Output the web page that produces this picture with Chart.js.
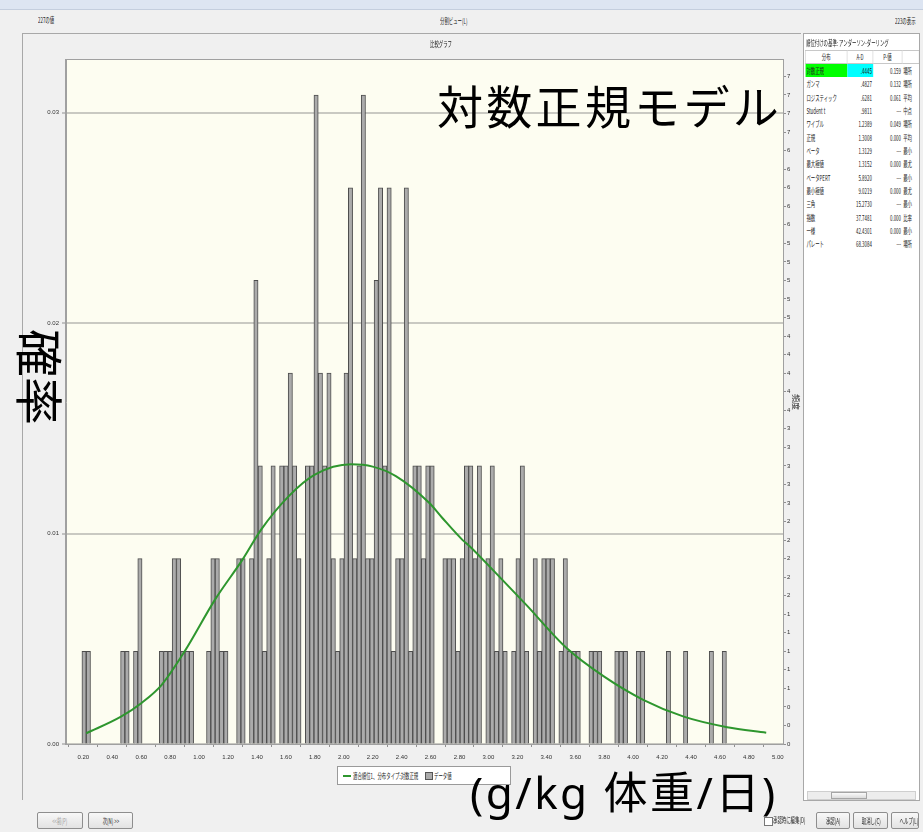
<!DOCTYPE html>
<html lang="ja">
<head>
<meta charset="UTF-8">
<title>比較グラフ</title>
<script src="https://cdn.jsdelivr.net/npm/chart.js"></script>
<style>
  body {
    margin: 0;
    width: 923px;
    height: 832px;
    position: relative;
    overflow: hidden;
    background: #F0F0F0;
    font-family: 'Noto Sans CJK JP', 'Noto Sans', sans-serif;
    color: #222;
  }
  .abs { position: absolute; }
  .tiny { font-size: 8px; line-height: 10px; white-space: nowrap; }
  .sq { display: inline-block; transform: scaleX(0.55); transform-origin: left center; }
  .sqc { display: inline-block; transform: scaleX(0.55); transform-origin: center center; }
  #topbar { left: 0; top: 0; width: 923px; height: 9px; background: #DDE5F2; border-bottom: 1px solid #C4CEDE; }
  #panel { left: 22px; top: 33px; width: 779px; height: 767px; border: 1px solid #A8A8A8; box-sizing: border-box; }
  #chart { left: 23px; top: 34px; }
  #rank { left: 803px; top: 33px; width: 117px; height: 768px; background: #fff; border: 1px solid #A8A8A8; box-sizing: border-box; overflow: hidden; }
  #rankWrap { position: absolute; left: 1px; top: 16px; width: 210px; transform: scaleX(0.55); transform-origin: left top; }
  #rankWrap table { width: 207px; border-collapse: collapse; table-layout: fixed; }
  #rankWrap td { height: 13.33px; padding: 0 2px; font-size: 8px; line-height: 13.33px; white-space: nowrap; overflow: visible; }
  #rankWrap tr.head td { border: 1px solid #C8C8C8; text-align: center; line-height: 12px; height: 12px; }
  .big { font-size: 46px; line-height: 1; white-space: nowrap; color: #000; }
  .legend { left: 337px; top: 766px; width: 174px; height: 19px; background: #fff; border: 1px solid #9A9A9A; box-sizing: border-box; }
  .btn { height: 17px; border: 1px solid #8E8E8E; border-radius: 2px; background: linear-gradient(#F8F8F8, #E2E2E2); box-sizing: border-box; text-align: center; font-size: 8px; line-height: 15px; white-space: nowrap; overflow: hidden; }
</style>
</head>
<body>
<div id="topbar" class="abs"></div>
<div class="abs tiny" style="left:38px; top:15px;"><span class="sq">227の値</span></div>
<div class="abs tiny" style="left:440px; top:16px;"><span class="sq">分割ビュー(L)</span></div>
<div class="abs tiny" style="left:895px; top:16px;"><span class="sq">223の表示</span></div>

<div id="panel" class="abs"></div>
<canvas id="chart" class="abs" width="778" height="766"></canvas>
<div class="abs tiny" style="left:430px; top:39px;"><span class="sq">比較グラフ</span></div>

<div class="abs legend tiny">
  <div class="abs" style="left:5px; top:8px; width:8px; height:2px; background:#2E962E;"></div>
  <div class="abs" style="left:15px; top:4px;"><span class="sq">適合順位1、分布タイプ:対数正規</span></div>
  <div class="abs" style="left:87px; top:5px; width:6px; height:6px; background:#ABABAB; border:1px solid #555;"></div>
  <div class="abs" style="left:96px; top:4px;"><span class="sq">データ値</span></div>
</div>

<div id="rank" class="abs">
  <div class="abs tiny" style="left:2px; top:4px;"><span class="sq">順位付けの基準: アンダーソン-ダーリング</span></div>
  <div id="rankWrap">
    <table>
      <colgroup><col style="width:76px"><col style="width:47px"><col style="width:53px"><col style="width:31px"></colgroup>
      <tbody id="rankBody">
        <tr class="head"><td>分布</td><td>A-D</td><td>P-値</td><td></td></tr>
      </tbody>
    </table>
  </div>
  <div class="abs" style="left:3px; top:757px; width:109px; height:9px; background:#EDEDED; border:1px solid #CFCFCF; box-sizing:border-box;"></div>
  <div class="abs" style="left:27px; top:758px; width:36px; height:7px; background:linear-gradient(#FAFAFA,#DCDCDC); border:1px solid #A5A5A5; box-sizing:border-box;"></div>
</div>

<div class="abs big" style="left:437px; top:81px; letter-spacing:3.3px;">対数正規モデル</div>
<div class="abs big" style="left:470px; top:770px; font-size:44px; font-family:'Noto Sans','Noto Sans CJK JP',sans-serif; letter-spacing:2.5px;">(g/kg 体重/日)</div>
<div class="abs big" style="left:18px; top:329px; font-size:48px; writing-mode:vertical-rl; text-orientation:sideways;">確率</div>

<div class="abs btn" style="left:37px; top:812px; width:46px; color:#9A9A9A;"><span class="sqc">&lt;&lt;前(P)</span></div>
<div class="abs btn" style="left:88px; top:812px; width:45px;"><span class="sqc">次(N) &gt;&gt;</span></div>
<div class="abs" style="left:764px; top:817px; width:7px; height:7px; border:1px solid #777; background:#fff;"></div>
<div class="abs tiny" style="left:773px; top:815px;"><span class="sq">承認時に編集(D)</span></div>
<div class="abs btn" style="left:816px; top:812px; width:34px;"><span class="sqc">承認(A)</span></div>
<div class="abs btn" style="left:853px; top:812px; width:35px;"><span class="sqc">取消し(C)</span></div>
<div class="abs btn" style="left:891px; top:812px; width:28px;"><span class="sqc">ヘルプ(L)</span></div>

<script>
  // histogram: 150 bins of frequency counts
  const binStart = 0.19;
  const binWidth = 0.0297;
  const totalValues = 227;
  const freq = [
    1, 1, 0, 0, 0, 0, 0, 0, 0, 1,
    1, 0, 1, 2, 0, 0, 0, 0, 1, 1,
    1, 2, 2, 1, 1, 1, 0, 0, 0, 1,
    2, 2, 1, 1, 0, 0, 2, 2, 0, 2,
    5, 3, 1, 2, 3, 0, 3, 3, 4, 3,
    2, 0, 3, 3, 7, 4, 3, 4, 2, 1,
    2, 4, 6, 2, 3, 7, 2, 2, 5, 6,
    3, 6, 1, 2, 2, 6, 1, 3, 3, 2,
    3, 3, 0, 0, 2, 2, 2, 1, 2, 3,
    3, 2, 3, 0, 2, 3, 1, 2, 1, 0,
    1, 2, 3, 1, 0, 2, 1, 2, 2, 2,
    0, 1, 2, 1, 1, 1, 0, 0, 1, 1,
    1, 0, 0, 0, 1, 1, 1, 0, 0, 1,
    1, 0, 0, 0, 0, 0, 1, 0, 0, 0,
    1, 0, 0, 0, 0, 0, 1, 0, 0, 1
  ];

  // fitted lognormal curve (probability per bin)
  const fitX = [0.22, 0.46, 0.60, 0.74, 0.90, 1.11, 1.30, 1.43, 1.62, 1.80, 2.05, 2.20, 2.36, 2.59, 2.68, 2.82, 2.87, 3.05, 3.26, 3.54, 3.80, 4.07, 4.35, 4.65, 4.92];
  const fitP = [0.00051, 0.0013, 0.00194, 0.0028, 0.0044, 0.00686, 0.00876, 0.0102, 0.01178, 0.0128, 0.01329, 0.01318, 0.01273, 0.01146, 0.01075, 0.0097, 0.0094, 0.00813, 0.00662, 0.00456, 0.0032, 0.0021, 0.0013, 0.0008, 0.00054];

  const xTicks = [0.2, 0.4, 0.6, 0.8, 1.0, 1.2, 1.4, 1.6, 1.8, 2.0, 2.2, 2.4, 2.6, 2.8, 3.0, 3.2, 3.4, 3.6, 3.8, 4.0, 4.2, 4.4, 4.6, 4.8, 5.0];
  const probTicks = [0, 0.01, 0.02, 0.03];
  const xMin = 0.08, xMax = 5.036, probMax = 0.0325;

  // ranking table
  const rankDist = ['対数正規', 'ガンマ', 'ロジスティック', 'Student t', 'ワイブル', '正規', 'ベータ', '最大極値', 'ベータPERT', '最小極値', '三角', '指数', '一様', 'パレート'];
  const rankAD = ['.4445', '.4827', '.6281', '.9811', '1.2389', '1.3008', '1.3129', '1.3152', '5.8920', '9.0219', '15.2730', '37.7481', '42.4301', '68.3084'];
  const rankP = ['0.159', '0.132', '0.061', '---', '0.049', '0.000', '---', '0.000', '---', '0.000', '---', '0.000', '0.000', '---'];
  const rankParam = ['場所', '場所', '平均', '中点', '場所', '平均', '最小', '最尤', '最小', '最尤', '最小', '比率', '最小', '場所'];

  const body = document.getElementById('rankBody');
  rankDist.forEach((d, i) => {
    const tr = document.createElement('tr');
    const c1 = i === 0 ? ' style="background:#00FF00"' : '';
    const c2 = i === 0 ? ' style="background:#00FFFF; text-align:right"' : ' style="text-align:right"';
    tr.innerHTML = '<td' + c1 + '>' + d + '</td>' +
      '<td' + c2 + '>' + rankAD[i] + '</td>' +
      '<td style="text-align:right">' + rankP[i] + '</td>' +
      '<td>' + rankParam[i] + '</td>';
    body.appendChild(tr);
  });

  const barData = freq.map((c, i) => ({ x: binStart + (i + 0.5) * binWidth, y: c > 0 ? c : null }));
  const fitData = fitX.map((x, i) => ({ x: x, y: fitP[i] }));

  const bgPlugin = {
    id: 'bg',
    beforeDraw(chart) {
      const { ctx, chartArea: a } = chart;
      ctx.save();
      ctx.fillStyle = '#F0F0F0';
      ctx.fillRect(0, 0, chart.width, chart.height);
      ctx.fillStyle = '#FDFDF1';
      ctx.fillRect(a.left, a.top, a.right - a.left, a.bottom - a.top);
      ctx.restore();
    },
    afterDraw(chart) {
      const { ctx, chartArea: a } = chart;
      ctx.save();
      ctx.strokeStyle = '#A0A0A0';
      ctx.lineWidth = 1;
      ctx.strokeRect(a.left - 0.5, a.top - 0.5, a.right - a.left + 1, a.bottom - a.top + 1);
      ctx.restore();
    }
  };

  const tickFont = { family: "'Liberation Sans Narrow', 'Liberation Sans', sans-serif", size: 6 };

  new Chart(document.getElementById('chart'), {
    data: {
      datasets: [
        {
          type: 'line',
          label: '適合順位1、分布タイプ:対数正規',
          data: fitData,
          xAxisID: 'x',
          yAxisID: 'y',
          borderColor: '#2E962E',
          borderWidth: 2,
          pointRadius: 0,
          cubicInterpolationMode: 'monotone',
          order: 0
        },
        {
          type: 'bar',
          label: 'データ値',
          data: barData,
          xAxisID: 'x',
          yAxisID: 'y1',
          backgroundColor: '#ABABAB',
          borderColor: '#4D4D4D',
          borderWidth: 1,
          barPercentage: 1,
          categoryPercentage: 1,
          order: 1
        }
      ]
    },
    options: {
      responsive: false,
      animation: false,
      devicePixelRatio: 1,
      layout: { padding: { top: 26, left: 0, right: 0, bottom: 0 } },
      plugins: {
        legend: { display: false },
        tooltip: { enabled: false }
      },
      scales: {
        x: {
          type: 'linear',
          offset: false,
          min: xMin,
          max: xMax,
          afterBuildTicks: (s) => { s.ticks = xTicks.map(v => ({ value: v })); },
          afterFit: (s) => { s.height = 56; },
          ticks: { autoSkip: false, maxRotation: 0, padding: 7, color: '#333', font: tickFont, callback: (v) => v.toFixed(2) },
          grid: { drawOnChartArea: false, tickLength: 3, color: '#909090' },
          border: { color: '#A0A0A0' }
        },
        y: {
          position: 'left',
          min: 0,
          max: probMax,
          afterBuildTicks: (s) => { s.ticks = probTicks.map(v => ({ value: v })); },
          afterFit: (s) => { s.width = 43; },
          ticks: { padding: 3, color: '#333', font: tickFont, callback: (v) => v.toFixed(2) },
          grid: { color: '#C9C9C2', lineWidth: 2, tickLength: 4, tickColor: '#909090', tickWidth: 1 },
          border: { color: '#A0A0A0' }
        },
        y1: {
          position: 'right',
          min: 0,
          max: probMax * totalValues,
          afterBuildTicks: (s) => { s.ticks = s.ticks.filter(t => Math.abs(t.value * 5 - Math.round(t.value * 5)) < 1e-6); },
          afterFit: (s) => { s.width = 18; },
          ticks: { stepSize: 0.2, autoSkip: false, padding: 1, color: '#333', font: tickFont, callback: (v) => Math.round(v) },
          grid: { drawOnChartArea: false, tickLength: 3, color: '#909090' },
          border: { color: '#A0A0A0' },
          title: { display: true, text: '頻度', color: '#333', padding: 0, font: { size: 8, family: "'Noto Sans CJK JP', sans-serif" } }
        }
      }
    },
    plugins: [bgPlugin]
  });
</script>
</body>
</html>
